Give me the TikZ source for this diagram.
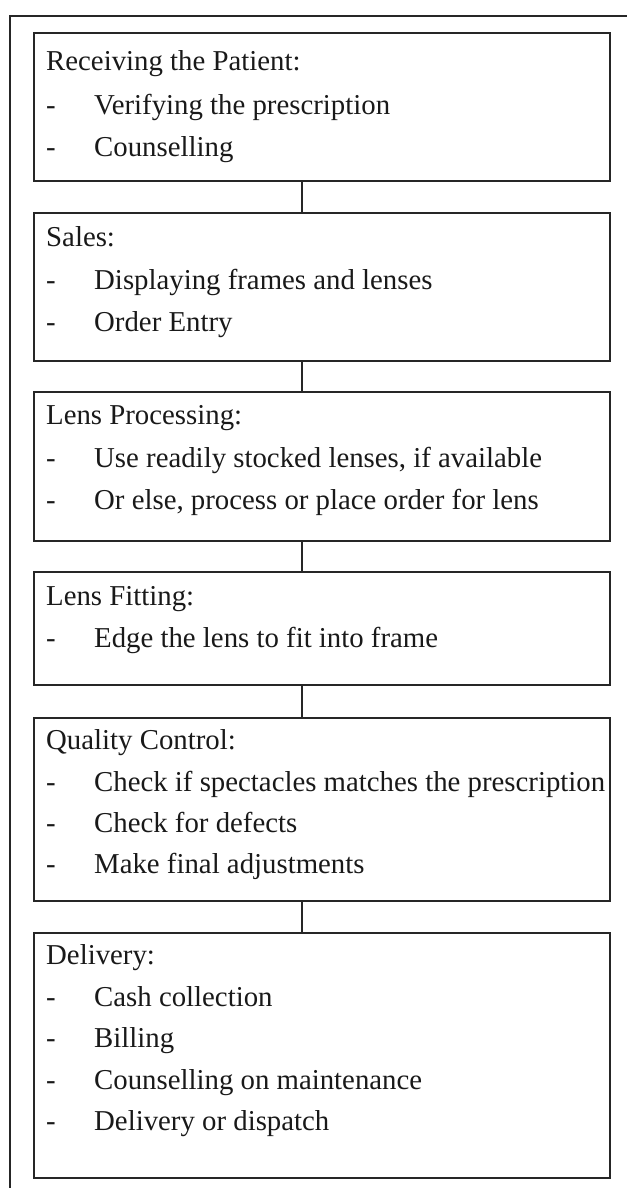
\documentclass[tikz,border=0pt]{standalone}
\usepackage{fontspec}
\setmainfont{Liberation Serif}
\begin{document}
\begin{tikzpicture}[x=1pt,y=-1pt,
  box/.style={draw=black!85, line width=2pt, inner sep=0pt, anchor=north west, minimum width=576pt},
  lbl/.style={anchor=base west, inner sep=0pt, font=\fontsize{28.8}{32}\selectfont, text=black!90},
  link/.style={draw=black!85, line width=2pt}]
\useasboundingbox (0,0) rectangle (627,1188);
\draw[link] (10,1188) -- (10,16) -- (627,16);
% boxes
\node[box, minimum height=148pt] (b1) at (33,32) {};
\node[box, minimum height=148pt] (b2) at (33,212) {};
\node[box, minimum height=149pt] (b3) at (33,391) {};
\node[box, minimum height=113pt] (b4) at (33,571) {};
\node[box, minimum height=183pt] (b5) at (33,717) {};
\node[box, minimum height=245pt] (b6) at (33,932) {};
% connectors
\coordinate (cx) at (302,0);
\draw[link] (b1.south -| cx) -- (b2.north -| cx);
\draw[link] (b2.south -| cx) -- (b3.north -| cx);
\draw[link] (b3.south -| cx) -- (b4.north -| cx);
\draw[link] (b4.south -| cx) -- (b5.north -| cx);
\draw[link] (b5.south -| cx) -- (b6.north -| cx);
% texts box 1
\node[lbl] (h1) at (46,71) {Receiving the Patient:};
\node[lbl] (d1a) at (46,114) {-}; \node[lbl] (i1a) at (94,114) {Verifying the prescription};
\node[lbl] (d1b) at (46,157) {-}; \node[lbl] (i1b) at (94,157) {Counselling};
% box 2
\node[lbl] (h2) at (46,246) {Sales:};
\node[lbl] (d2a) at (46,289) {-}; \node[lbl] (i2a) at (94,289) {Displaying frames and lenses};
\node[lbl] (d2b) at (46,331) {-}; \node[lbl] (i2b) at (94,331) {Order Entry};
% box 3
\node[lbl] (h3) at (46,424) {Lens Processing:};
\node[lbl] (d3a) at (46,467) {-}; \node[lbl] (i3a) at (94,467) {Use readily stocked lenses, if available};
\node[lbl] (d3b) at (46,509) {-}; \node[lbl] (i3b) at (94,509) {Or else, process or place order for lens};
% box 4
\node[lbl] (h4) at (46,605) {Lens Fitting:};
\node[lbl] (d4a) at (46,647) {-}; \node[lbl] (i4a) at (94,647) {Edge the lens to fit into frame};
% box 5
\node[lbl] (h5) at (46,749) {Quality Control:};
\node[lbl] (d5a) at (46,791) {-}; \node[lbl] (i5a) at (94,791) {Check if spectacles matches the prescription};
\node[lbl] (d5b) at (46,832) {-}; \node[lbl] (i5b) at (94,832) {Check for defects};
\node[lbl] (d5c) at (46,873) {-}; \node[lbl] (i5c) at (94,873) {Make final adjustments};
% box 6
\node[lbl] (h6) at (46,964) {Delivery:};
\node[lbl] (d6a) at (46,1006) {-}; \node[lbl] (i6a) at (94,1006) {Cash collection};
\node[lbl] (d6b) at (46,1047) {-}; \node[lbl] (i6b) at (94,1047) {Billing};
\node[lbl] (d6c) at (46,1089) {-}; \node[lbl] (i6c) at (94,1089) {Counselling on maintenance};
\node[lbl] (d6d) at (46,1130) {-}; \node[lbl] (i6d) at (94,1130) {Delivery or dispatch};
\end{tikzpicture}
\end{document}
